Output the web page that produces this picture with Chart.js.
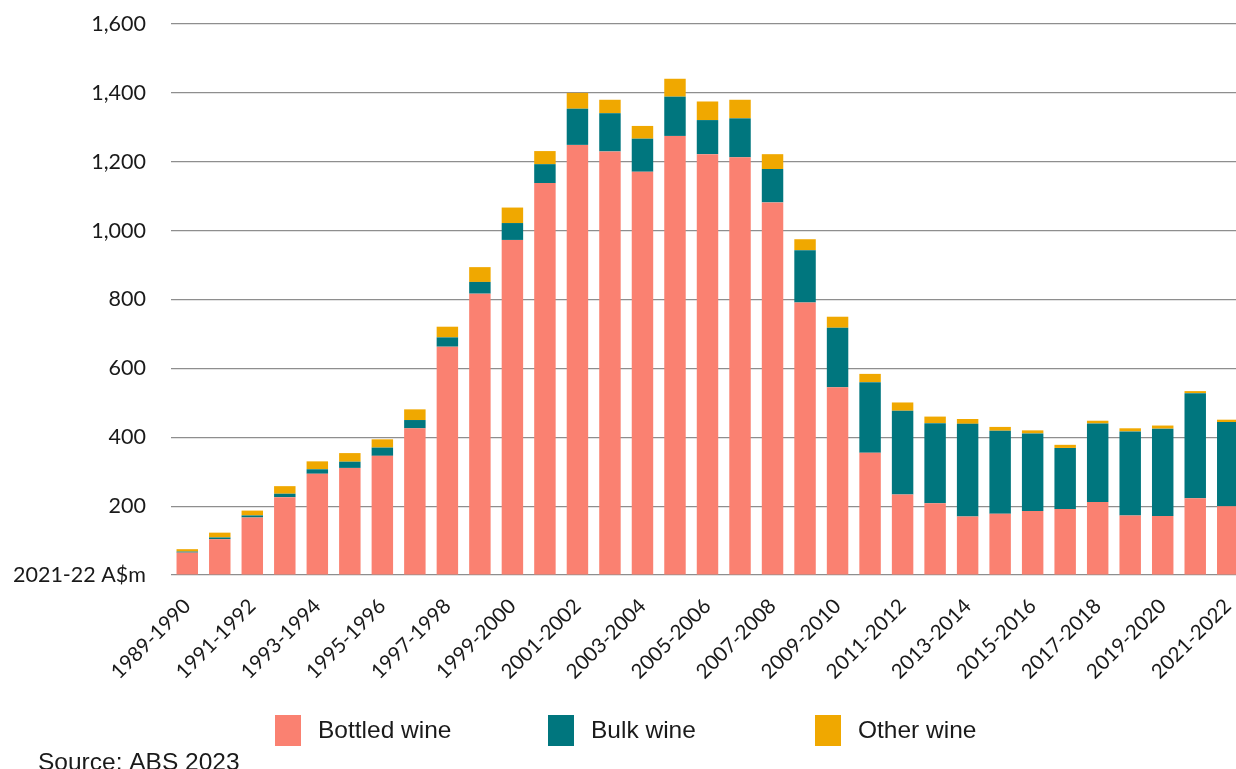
<!DOCTYPE html>
<html>
<head>
<meta charset="utf-8">
<script src="https://cdn.jsdelivr.net/npm/chart.js@4/dist/chart.umd.min.js"></script>
<style>
  html, body { margin: 0; padding: 0; background: #fff; overflow: hidden; }
  #wrap { width: 1236px; height: 769px; overflow: hidden; position: relative; }
  #box { position: absolute; left: 0; top: 0; width: 1244px; height: 769px; }
</style>
</head>
<body>
<div id="wrap"><div id="box"><canvas id="c"></canvas></div></div>
<script>
// Financial years
const years = [
  '1989-1990', '1990-1991', '1991-1992', '1992-1993', '1993-1994', '1994-1995',
  '1995-1996', '1996-1997', '1997-1998', '1998-1999', '1999-2000', '2000-2001',
  '2001-2002', '2002-2003', '2003-2004', '2004-2005', '2005-2006', '2006-2007',
  '2007-2008', '2008-2009', '2009-2010', '2010-2011', '2011-2012', '2012-2013',
  '2013-2014', '2014-2015', '2015-2016', '2016-2017', '2017-2018', '2018-2019',
  '2019-2020', '2020-2021', '2021-2022'
];

// Export value by wine type, 2021-22 A$m
const bottledWine = [65, 104, 167, 226, 294, 311, 346, 426, 663, 817, 973, 1138, 1249, 1230, 1171, 1275,
  1222, 1213, 1082, 791, 545, 355, 234, 208, 170, 178, 186, 192, 212, 173, 171, 223, 200];
const bulkWine = [3, 5, 6, 10, 13, 18, 24, 24, 27, 34, 49, 55, 105, 111, 96, 114,
  99, 113, 97, 152, 173, 205, 243, 233, 269, 241, 225, 177, 228, 244, 254, 305, 244];
const otherWine = [7, 14, 14, 22, 23, 25, 24, 31, 31, 43, 45, 38, 46, 39, 37, 52,
  54, 54, 43, 32, 32, 24, 24, 19, 14, 11, 9, 9, 8, 9, 9, 6, 7];

const seriesNames = ['Bottled wine', 'Bulk wine', 'Other wine'];
const yTicks = [0, 200, 400, 600, 800, 1000, 1200, 1400, 1600];
const unitLabel = '2021-22 A$m';
const sourceNote = 'Source: ABS 2023';

const colours = { bottled: '#FA8171', bulk: '#00767E', other: '#F0A800', grid: '#8e8e8e', text: '#1a1a1a' };
const yFont = { family: 'Lato, "Noto Sans", sans-serif', size: 21.5 };
const xFont = { family: 'Lato, "Noto Sans", sans-serif', size: 20.5 };

// Legend row and source line under the plot
const legendLayout = { xs: [275, 548, 815], top: 715, boxW: 26, boxH: 31, gap: 17 };
const footLegend = {
  id: 'footLegend',
  afterDraw(chart) {
    const ctx = chart.ctx;
    ctx.save();
    ctx.font = '24.5px "Liberation Sans", Arial, sans-serif';
    chart.data.datasets.forEach((ds, i) => {
      const x = legendLayout.xs[i];
      ctx.fillStyle = ds.backgroundColor;
      ctx.fillRect(x, legendLayout.top, legendLayout.boxW, legendLayout.boxH);
      ctx.fillStyle = colours.text;
      ctx.textBaseline = 'middle';
      ctx.textAlign = 'left';
      ctx.fillText(ds.label, x + legendLayout.boxW + legendLayout.gap, legendLayout.top + legendLayout.boxH / 2 + 1);
    });
    ctx.textBaseline = 'alphabetic';
    ctx.fillText(sourceNote, 38, 770);
    ctx.restore();
  }
};

new Chart(document.getElementById('c'), {
  type: 'bar',
  data: {
    labels: years,
    datasets: [
      { label: seriesNames[0], data: bottledWine, backgroundColor: colours.bottled },
      { label: seriesNames[1], data: bulkWine, backgroundColor: colours.bulk },
      { label: seriesNames[2], data: otherWine, backgroundColor: colours.other }
    ]
  },
  options: {
    responsive: true,
    maintainAspectRatio: false,
    devicePixelRatio: 1,
    animation: false,
    datasets: { bar: { barPercentage: 0.66, categoryPercentage: 1, borderWidth: 0 } },
    layout: { padding: { top: 24, right: 0, bottom: 20, left: 0 } },
    plugins: { legend: { display: false }, tooltip: { enabled: false } },
    scales: {
      x: {
        stacked: true,
        grid: { display: false },
        border: { display: false },
        afterFit(scale) {
          scale.height = 174;
          scale.paddingLeft = 0;
          scale.paddingRight = 0;
        },
        ticks: {
          autoSkip: false,
          maxRotation: 45,
          minRotation: 45,
          padding: 11,
          color: colours.text,
          font: xFont,
          callback(value, index) { return index % 2 === 0 ? years[index] : ''; }
        }
      },
      y: {
        stacked: true,
        min: yTicks[0],
        max: yTicks[yTicks.length - 1],
        afterFit(scale) {
          scale.width = 171;
          scale.paddingTop = 0;
          scale.paddingBottom = 0;
        },
        afterBuildTicks(scale) { scale.ticks = yTicks.map(v => ({ value: v })); },
        grid: { color: colours.grid, lineWidth: 1.2, drawTicks: false },
        border: { display: false },
        ticks: {
          padding: 25,
          color: colours.text,
          font: yFont,
          callback(value) { return value === 0 ? unitLabel : value.toLocaleString('en-US'); }
        }
      }
    }
  },
  plugins: [footLegend]
});
</script>
</body>
</html>
